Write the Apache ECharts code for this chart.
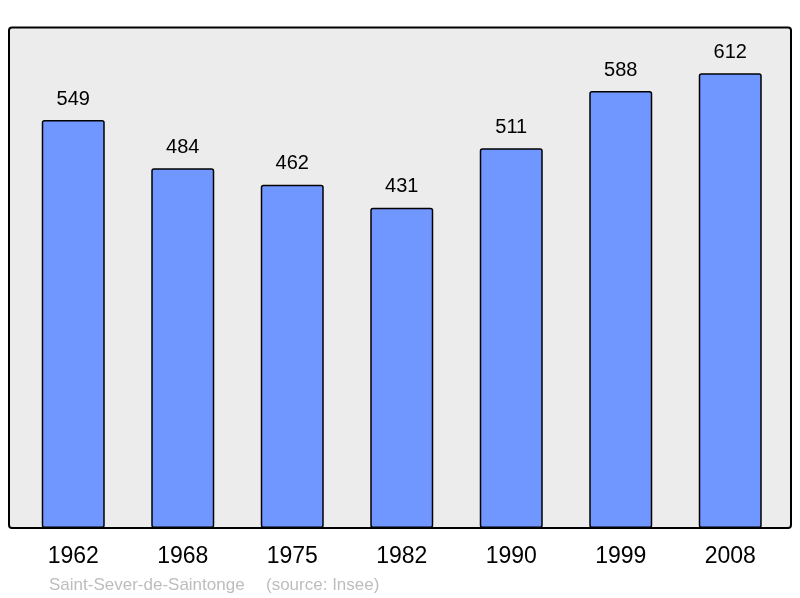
<!DOCTYPE html>
<html><head><meta charset="utf-8">
<script src="https://cdn.jsdelivr.net/npm/echarts@6/dist/echarts.min.js"></script>
<style>html,body{margin:0;padding:0;background:#fff}#c{width:800px;height:598px}</style>
</head><body><div id="c"></div>
<script>
const years = ['1962','1968','1975','1982','1990','1999','2008'];
const population = [549, 484, 462, 431, 511, 588, 612];
const placeName = 'Saint-Sever-de-Saintonge';
const sourceText = '(source: Insee)';

const chart = echarts.init(document.getElementById('c'));
chart.setOption({
  animation: false,
  backgroundColor: '#ffffff',
  textStyle: { fontFamily: 'Liberation Sans, Arial, sans-serif' },
  graphic: [
    { type: 'rect', z: -10, shape: { x: 9, y: 27.5, width: 782, height: 500.5, r: 3 },
      style: { fill: '#ececec', stroke: '#000', lineWidth: 2 } },
    { type: 'text', left: 49, top: 576.5, style: { text: placeName, fill: '#bdbdbd', font: '17px Liberation Sans, Arial, sans-serif' } },
    { type: 'text', left: 266, top: 576.5, style: { text: sourceText, fill: '#bdbdbd', font: '17px Liberation Sans, Arial, sans-serif' } }
  ],
  grid: { left: 18.5, width: 766.5, top: 27.7, bottom: 70, containLabel: false },
  xAxis: {
    type: 'category', data: years,
    axisLine: { show: false }, axisTick: { show: false },
    axisLabel: { color: '#000', fontSize: 23, margin: 17, fontFamily: 'Liberation Sans, Arial, sans-serif' }
  },
  yAxis: { type: 'value', min: 0, max: 673.2, show: false, splitLine: { show: false } },
  series: [{
    type: 'bar', data: population, barWidth: 63,
    itemStyle: { color: '#7096ff', borderColor: '#000', borderWidth: 1.5, borderRadius: 2 },
    label: { show: true, position: 'top', distance: 11, color: '#000', fontSize: 20, fontFamily: 'Liberation Sans, Arial, sans-serif' }
  }]
});
</script></body></html>
